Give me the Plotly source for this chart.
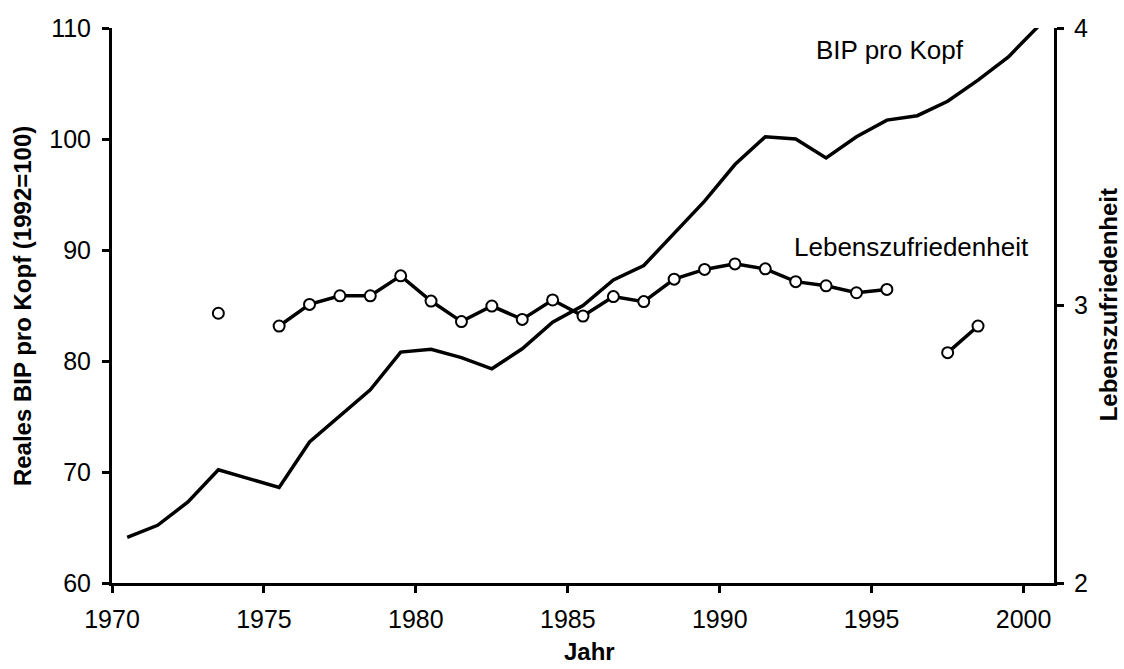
import plotly.graph_objects as go

# Real GDP per capita (1992=100), by year
gdp_years = list(range(1970, 2001))
gdp_values = [64.1, 65.2, 67.3, 70.2, 69.4, 68.6, 72.7, 75.1, 77.4, 80.8,
              81.05, 80.3, 79.3, 81.1, 83.5, 85.0, 87.3, 88.6, 91.5, 94.4,
              97.7, 100.2, 100.0, 98.3, 100.2, 101.7, 102.1, 103.4, 105.3, 107.4,
              110.2]

# Life satisfaction, by year (None = no survey)
ls_years = list(range(1973, 1999))
ls_values = [2.972, None, 2.926, 3.004, 3.035, 3.035, 3.107, 3.016, 2.942, 2.998,
             2.950, 3.020, 2.962, 3.032, 3.014, 3.095, 3.130, 3.150, 3.132, 3.086,
             3.071, 3.046, 3.058, None, 2.830, 2.926]

x_ticks = [1970, 1975, 1980, 1985, 1990, 1995, 2000]
y_ticks = [60, 70, 80, 90, 100, 110]
y2_ticks = [2, 3, 4]

FONT = "Liberation Sans, Arial, Helvetica, sans-serif"
MID = 0.5  # values plotted at mid-year

fig = go.Figure()
fig.add_trace(go.Scatter(
    x=[y + MID for y in gdp_years], y=gdp_values, mode="lines",
    line=dict(color="black", width=3.5), showlegend=False, yaxis="y"))
fig.add_trace(go.Scatter(
    x=[y + MID for y in ls_years], y=ls_values, mode="lines+markers",
    line=dict(color="black", width=3.5),
    marker=dict(symbol="circle", size=11, color="white",
                line=dict(color="black", width=2)),
    connectgaps=False, showlegend=False, yaxis="y2"))

axis_common = dict(showgrid=False, zeroline=False, showline=True,
                   linecolor="black", linewidth=3, ticks="outside",
                   ticklen=7, tickwidth=2.5, tickcolor="black",
                   tickfont=dict(family=FONT, size=25, color="black"))

fig.update_layout(
    width=1124, height=669,
    margin=dict(l=112, r=70, t=28, b=86),
    paper_bgcolor="white", plot_bgcolor="white",
    font=dict(family=FONT, color="black"),
    xaxis=dict(range=[1970, 2001], tickvals=x_ticks, ticklabelstandoff=5,
               **axis_common),
    yaxis=dict(range=[60, 110], tickvals=y_ticks, ticklabelstandoff=6,
               **axis_common),
    yaxis2=dict(range=[2, 4], tickvals=y2_ticks, overlaying="y", side="right",
                anchor="x", ticklabelstandoff=5, **axis_common),
    annotations=[
        dict(text="BIP pro Kopf", x=1995.6, y=108.0, xref="x", yref="y",
             showarrow=False, font=dict(family=FONT, size=26, color="black")),
        dict(text="Lebenszufriedenheit", x=1996.3, y=90.3, xref="x", yref="y",
             showarrow=False, font=dict(family=FONT, size=26, color="black")),
        dict(text="<b>Reales BIP pro Kopf (1992=100)</b>", x=-0.0955, y=0.499,
             xref="paper", yref="paper", textangle=-90, showarrow=False,
             xanchor="center", yanchor="middle",
             font=dict(family=FONT, size=24, color="black")),
        dict(text="<b>Lebenszufriedenheit</b>", x=1.0573, y=0.502,
             xref="paper", yref="paper", textangle=-90, showarrow=False,
             xanchor="center", yanchor="middle",
             font=dict(family=FONT, size=24, color="black")),
        dict(text="<b>Jahr</b>", x=0.507, y=-0.124,
             xref="paper", yref="paper", showarrow=False,
             xanchor="center", yanchor="middle",
             font=dict(family=FONT, size=24, color="black")),
    ],
)

fig.write_html(
    "out.html",
    config={"displayModeBar": False},
    post_script="document.body.style.margin='0';document.body.style.overflow='hidden';",
)
